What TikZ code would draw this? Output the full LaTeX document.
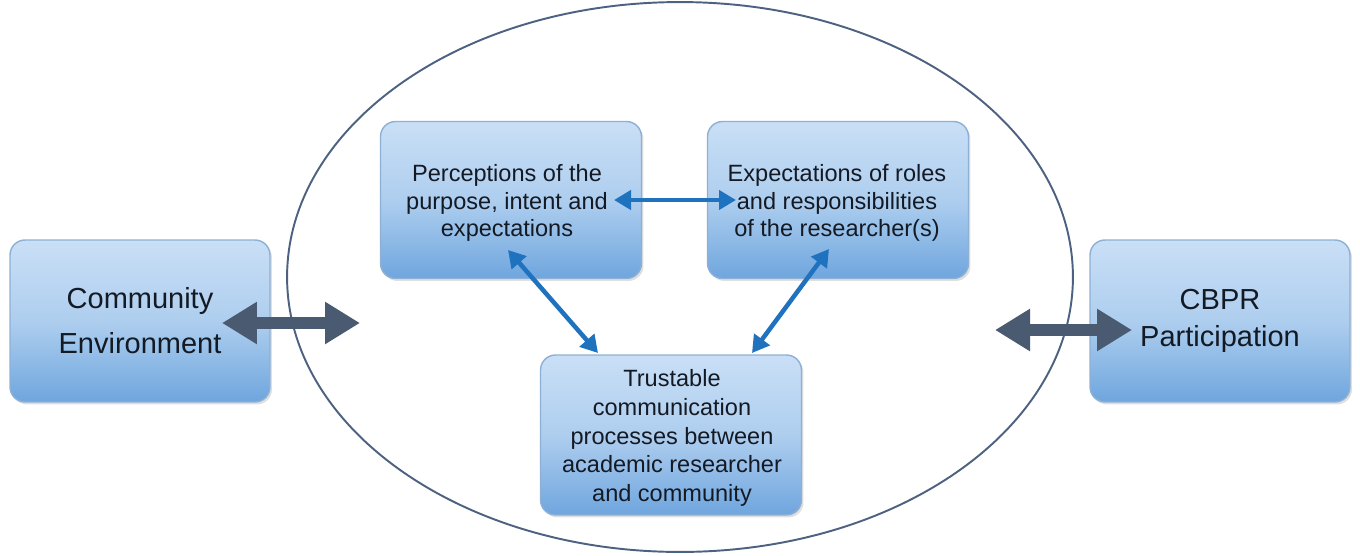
\documentclass[tikz,border=0pt]{standalone}
\usepackage{fontspec}
\setmainfont{Liberation Sans}
\usetikzlibrary{arrows.meta,shapes.geometric,shadows}
\definecolor{boxtop}{HTML}{C9DFF6}
\definecolor{boxbot}{HTML}{6FA6DE}
\definecolor{boxedge}{HTML}{8DB0D4}
\definecolor{darkarrow}{HTML}{4A5A70}
\definecolor{bluearrow}{HTML}{1F72BE}
\definecolor{ringcol}{HTML}{4D6280}
\definecolor{txt}{HTML}{141A24}
\tikzset{
  boxbase/.style={draw=boxedge, line width=0.8pt, rounded corners=0.3cm,
    top color=boxtop, bottom color=boxbot, middle color=boxtop!70!boxbot,
    drop shadow={opacity=0.25, shadow xshift=0.04cm, shadow yshift=-0.05cm},
    align=center, text=txt},
  bigbox/.style={boxbase, minimum width=5.2cm, minimum height=3.24cm,
    font=\fontsize{16.5}{25.6}\selectfont},
  smallbox/.style={boxbase, minimum width=5.22cm, minimum height=3.14cm,
    font=\fontsize{13.4}{16.2}\selectfont},
  fatarrow/.style={darkarrow, line width=0.24cm,
    {Triangle[width=0.8cm,length=0.7cm]}-{Triangle[width=0.8cm,length=0.7cm]}},
  thinarrow/.style={bluearrow, line width=0.09cm,
    {Triangle[width=0.38cm,length=0.34cm]}-{Triangle[width=0.38cm,length=0.34cm]}},
}
\begin{document}
\begin{tikzpicture}[x=0.02cm,y=-0.02cm]
\useasboundingbox (0,0) rectangle (1360,555);
\node[draw=ringcol, line width=1.1pt, ellipse, minimum width=15.72cm, minimum height=11cm] (ring) at (680,277) {};
\node[bigbox] (ce) at (140,321) {Community\\Environment};
\node[bigbox, font=\fontsize{16.5}{21}\selectfont] (cbpr) at (1220,321) {CBPR\\Participation};
\node[smallbox] (pe) at (511,200) {};
\node[align=center, text=txt, font=\fontsize{13.4}{15.6}\selectfont] (pet) at (507,203) {Perceptions of the\\purpose, intent and\\expectations};
\node[smallbox] (ex) at (838,200) {};
\node[align=center, text=txt, font=\fontsize{13.4}{15.6}\selectfont] (ext) at (837,203) {Expectations of roles\\and responsibilities\\of the researcher(s)};
\node[smallbox, minimum height=3.2cm] (tr) at (671,435) {};
\node[align=center, text=txt, font=\fontsize{13.4}{16.4}\selectfont] (trt) at (672,438) {Trustable\\communication\\processes between\\academic researcher\\and community};
\coordinate (l1) at (222,323);
\coordinate (l2) at (360,323);
\coordinate (r1) at (995,330);
\coordinate (r2) at (1132,330);
\coordinate (h1) at (614,200);
\coordinate (h2) at (736,200);
\coordinate (d1) at (508,250);
\coordinate (d2) at (598,353);
\coordinate (e1) at (829,249);
\coordinate (e2) at (752,353);
\draw[fatarrow] (l1) -- (l2);
\draw[fatarrow] (r1) -- (r2);
\draw[thinarrow] (h1) -- (h2);
\draw[thinarrow] (d1) -- (d2);
\draw[thinarrow] (e1) -- (e2);
\end{tikzpicture}
\end{document}
